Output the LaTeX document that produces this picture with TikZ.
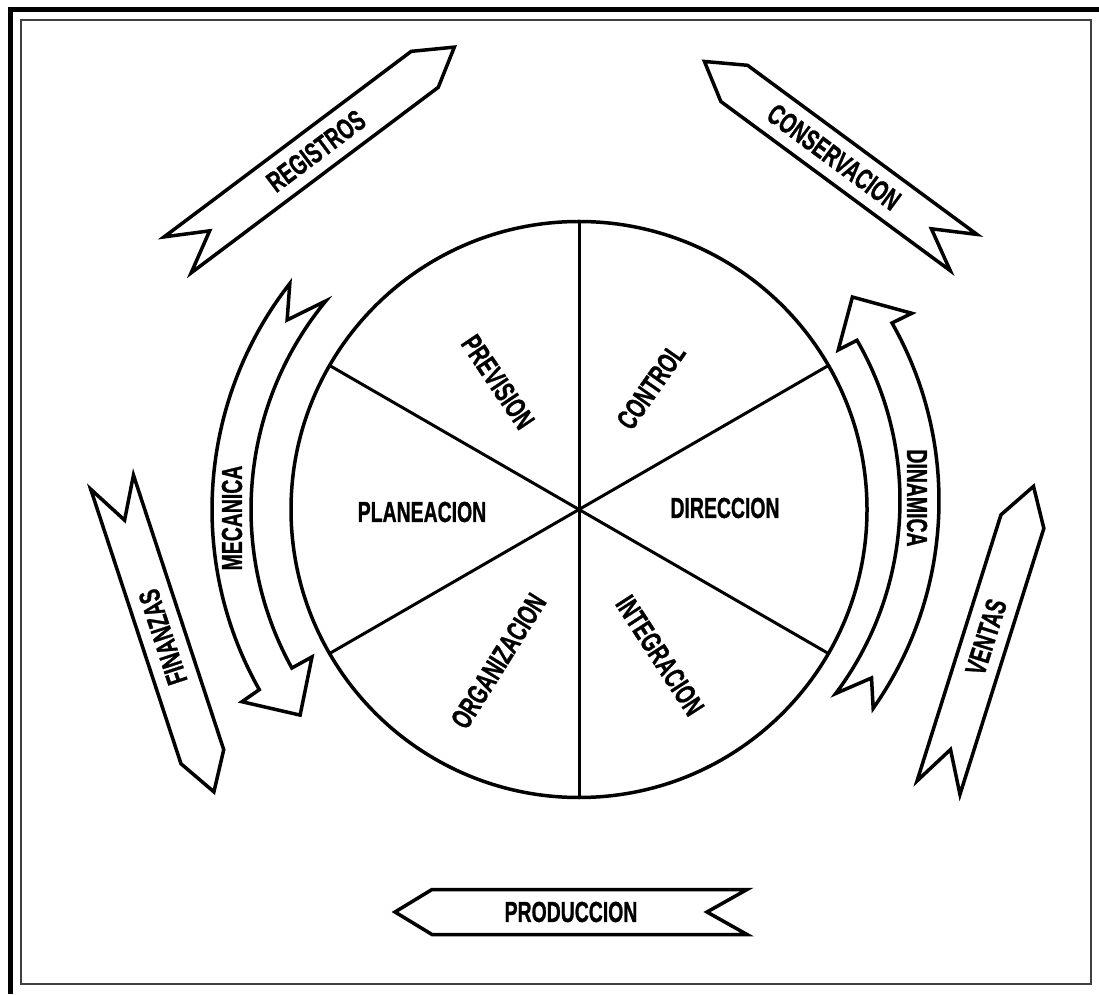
\documentclass[tikz,border=0pt]{standalone}
\usepackage{graphicx}
\usepackage{fontspec}
\newfontfamily\dlabfam[FakeBold=1.2]{Liberation Sans}
\newcommand\dlabfont{\dlabfam\bfseries\fontsize{29pt}{29pt}\selectfont}
\newcommand\dtxt[1]{\scalebox{0.67}[1]{#1}}
\tikzset{
  band/.style={draw=black, line width=3.5pt, fill=white, line join=miter},
  lbl/.style={font=\dlabfont, inner sep=0pt},
  spoke/.style={draw=black, line width=3pt},
}
% banner: name, cx, cy, head angle, length, text, text rotation
\newcommand\dbanner[7]{%
  \begin{scope}[shift={(#2,#3)},rotate=#4]
    \draw[band] (-#5/2,22.5) -- (#5/2-37,22.5) -- (#5/2,0) -- (#5/2-37,-22.5)
      -- (-#5/2,-22.5) -- (-#5/2+40,0) -- cycle;
  \end{scope}
  \node[lbl,rotate=#7] (#1) at (#2,#3) {\dtxt{#6}};}
\begin{document}
\begin{tikzpicture}[x=1pt,y=1pt]
\useasboundingbox (0,0) rectangle (1099,994);
\fill[white] (0,0) rectangle (1099,994);
% frames
\draw[line width=5pt, black] (10.5,0) -- (10.5,984.5) -- (1099,984.5);
\draw[line width=1.7pt, black!75] (21,10) rectangle (1091,974);

% circle with six sectors
\begin{scope}[shift={(579,484.5)}]
  \coordinate (O) at (0,0);
  \draw[line width=3.5pt] (O) circle (288);
  \foreach \a in {90,30,-30,-90,-150,150}
    \draw[spoke] (O) -- (\a:288);
  % MECANICA curved arrow
  \draw[band] (142:367) arc[start angle=142, end angle=209.4, radius=367]
    -- (209.7:388) -- (216.4:346.5) -- (208.9:305) -- (208.9:328)
    arc[start angle=208.9, end angle=140.5, radius=328] -- (147:348) -- cycle;
\end{scope}
\begin{scope}[shift={(579,493.2)}]
  % DINAMICA curved arrow
  \draw[band] (-35.2:360) arc[start angle=-35.2, end angle=29.6, radius=360]
    -- (29.4:382) -- (36.7:341) -- (30.2:300) -- (30:321)
    arc[start angle=30, end angle=-36.9, radius=321] -- (-31.2:342) -- cycle;
\end{scope}

% sector labels
\node[lbl,rotate=-56] (prev) at (498,612) {\dtxt{PREVISION}};
\node[lbl,rotate=55]  (ctrl) at (651,607.5) {\dtxt{CONTROL}};
\node[lbl]            (dir)  at (725,486) {\dtxt{DIRECCION}};
\node[lbl]            (plan) at (422,482) {\dtxt{PLANEACION}};
\node[lbl,rotate=58]  (org)  at (498.5,333) {\dtxt{ORGANIZACION}};
\node[lbl,rotate=-57] (int)  at (660,338.5) {\dtxt{INTEGRACION}};

% arrow labels
\node[lbl,rotate=90]  (mec) at (232,476) {\dtxt{MECANICA}};
\node[lbl,rotate=-90] (din) at (917,496) {\dtxt{DINAMICA}};

% banners
\dbanner{reg}{316}{843}{36.9}{346}{REGISTROS}{36.9}
\dbanner{cons}{834}{837}{143.6}{322}{CONSERVACION}{-36.4}
\dbanner{fin}{163}{357}{-71.8}{326}{FINANZAS}{108.2}
\dbanner{ven}{986}{357}{72.5}{316}{VENTAS}{72.5}
\dbanner{prod}{571}{82}{180}{352}{PRODUCCION}{0}
\end{tikzpicture}
\end{document}
